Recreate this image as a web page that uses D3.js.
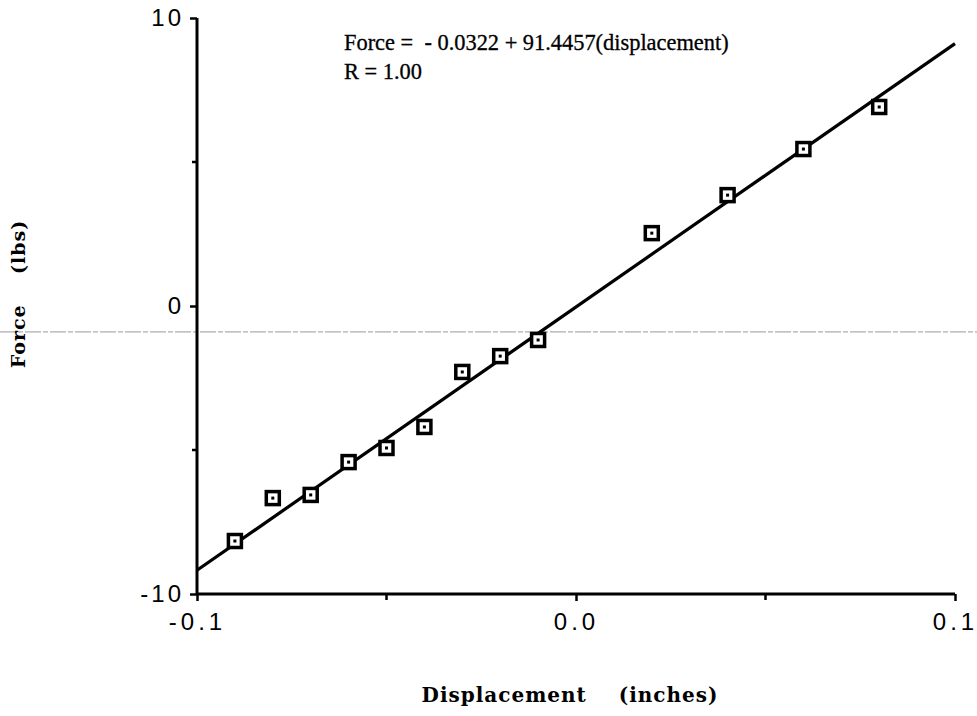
<!DOCTYPE html>
<html>
<head>
<meta charset="utf-8">
<script src="https://cdnjs.cloudflare.com/ajax/libs/d3/7.8.5/d3.min.js"></script>
<style>
	body{margin:0;background:#fff;}
	svg{display:block;}
</style>
</head>
<body>
<svg width="977" height="716"></svg>
<script>
	//measured points
	var displacement = [-0.09,-0.08,-0.07,-0.06,-0.05,-0.04,-0.03,-0.02,-0.01,0.02,0.04,0.06,0.08];
	var force = [-8.16,-6.67,-6.56,-5.42,-4.93,-4.20,-2.29,-1.74,-1.18,2.53,3.85,5.45,6.91];
	//regression result
	var fitCoef = {intercept:-0.0322, slope:91.4457};
	var xTicks = [-0.1,0,0.1];
	var xMinorTicks = [-0.05,0.05];
	var yTicks = [-10,0,10];
	var yMinorTicks = [-5,5];
	var xTickLabels = ["-0.1","0.0","0.1"];
	var yTickLabels = ["-10","0","10"];

	var svg = d3.select('svg');
	var x = d3.scaleLinear().domain([-0.1,0.1]).range([197,955]);
	var y = d3.scaleLinear().domain([-10,10]).range([594,18]);

	//scanner artefact line
	svg.append('line')
		.attr("x1",0).attr("x2",977)
		.attr("y1",y(-0.9)).attr("y2",y(-0.9))
		.attr("stroke","#999")
		.attr("stroke-width",1)
		.attr("stroke-dasharray","16,2,5,2");

	//axes
	var xAxis = d3.axisBottom(x).tickValues(xTicks).tickSize(7)
		.tickFormat(function(d,i){ return xTickLabels[i]; });
	var gx = svg.append('g').attr("transform","translate(0,"+y(-10)+")").call(xAxis);
	gx.select('.domain').remove();
	gx.append('line').attr("x1",x(-0.1)).attr("x2",x(0.1)).attr("stroke","#000").attr("stroke-width",3);
	gx.selectAll('.tick line').attr("stroke-width",2.5);
	gx.selectAll('.tick text')
		.attr("dy","1.1em")
		.attr("font-family","'Liberation Sans',Arial,sans-serif")
		.attr("font-size",24)
		.attr("letter-spacing","4px")
		.attr("fill","#000");
	gx.selectAll('.minor')
		.data(xMinorTicks)
		.enter()
		.append('line')
		.attr("x1",function(d){ return x(d); })
		.attr("x2",function(d){ return x(d); })
		.attr("y1",0).attr("y2",6)
		.attr("stroke","#000").attr("stroke-width",2.5);

	var yAxis = d3.axisLeft(y).tickValues(yTicks).tickSize(7)
		.tickFormat(function(d,i){ return yTickLabels[i]; });
	var gy = svg.append('g').attr("transform","translate("+x(-0.1)+",0)").call(yAxis);
	gy.select('.domain').remove();
	gy.append('line').attr("y1",y(10)).attr("y2",y(-10)).attr("stroke","#000").attr("stroke-width",3);
	gy.selectAll('.tick line').attr("stroke-width",2.5);
	gy.selectAll('.tick text')
		.attr("x",-13)
		.attr("font-family","'Liberation Sans',Arial,sans-serif")
		.attr("font-size",24)
		.attr("letter-spacing","3px")
		.attr("fill","#000");
	gy.selectAll('.minor')
		.data(yMinorTicks)
		.enter()
		.append('line')
		.attr("y1",function(d){ return y(d); })
		.attr("y2",function(d){ return y(d); })
		.attr("x1",0).attr("x2",-5)
		.attr("stroke","#000").attr("stroke-width",2.5);

	//fit line
	var fitLine = d3.line()
		.x(function(d){ return x(d); })
		.y(function(d){ return y(fitCoef.intercept + fitCoef.slope*d); });
	svg.append('path')
		.datum([-0.1,0.1])
		.attr("d",fitLine)
		.attr("fill","none")
		.attr("stroke","#000")
		.attr("stroke-width",3.2);

	//markers
	var pts = displacement.map(function(d,i){ return {x:d,y:force[i]}; });
	var mk = svg.selectAll('g.pt')
		.data(pts)
		.enter()
		.append('g')
		.attr("class","pt")
		.attr("transform",function(d){ return "translate("+x(d.x)+","+y(d.y)+")"; });
	mk.append('rect')
		.attr("x",-6.5).attr("y",-6.5)
		.attr("width",13).attr("height",13)
		.attr("fill","#fff")
		.attr("stroke","#000")
		.attr("stroke-width",3.5);
	mk.append('rect')
		.attr("x",-1.5).attr("y",-1.5)
		.attr("width",3).attr("height",3)
		.attr("fill","#000");

	//equation
	var eq = svg.append('g')
		.attr("font-family","'Liberation Serif','Times New Roman',serif")
		.attr("font-size",22.4)
		.attr("fill","#000")
		.attr("stroke","#000")
		.attr("stroke-width",0.3);
	eq.append('text').attr("x",344).attr("y",50)
		.attr("xml:space","preserve")
		.text("Force =  - "+Math.abs(fitCoef.intercept).toFixed(4)+" + "+fitCoef.slope.toFixed(4)+"(displacement)");
	eq.append('text').attr("x",344).attr("y",79).text("R = 1.00");

	//axis titles
	svg.append('text')
		.attr("x",570).attr("y",702)
		.attr("text-anchor","middle")
		.attr("font-family","'DejaVu Serif',serif")
		.attr("font-weight","bold")
		.attr("font-size",20)
		.attr("letter-spacing","1px")
		.attr("xml:space","preserve")
		.text("Displacement    (inches)");
	svg.append('text')
		.attr("transform","translate(25,294) rotate(-90)")
		.attr("text-anchor","middle")
		.attr("font-family","'DejaVu Serif',serif")
		.attr("font-weight","bold")
		.attr("font-size",19)
		.attr("letter-spacing","1px")
		.attr("xml:space","preserve")
		.text("Force    (lbs)");
</script>
</body>
</html>
